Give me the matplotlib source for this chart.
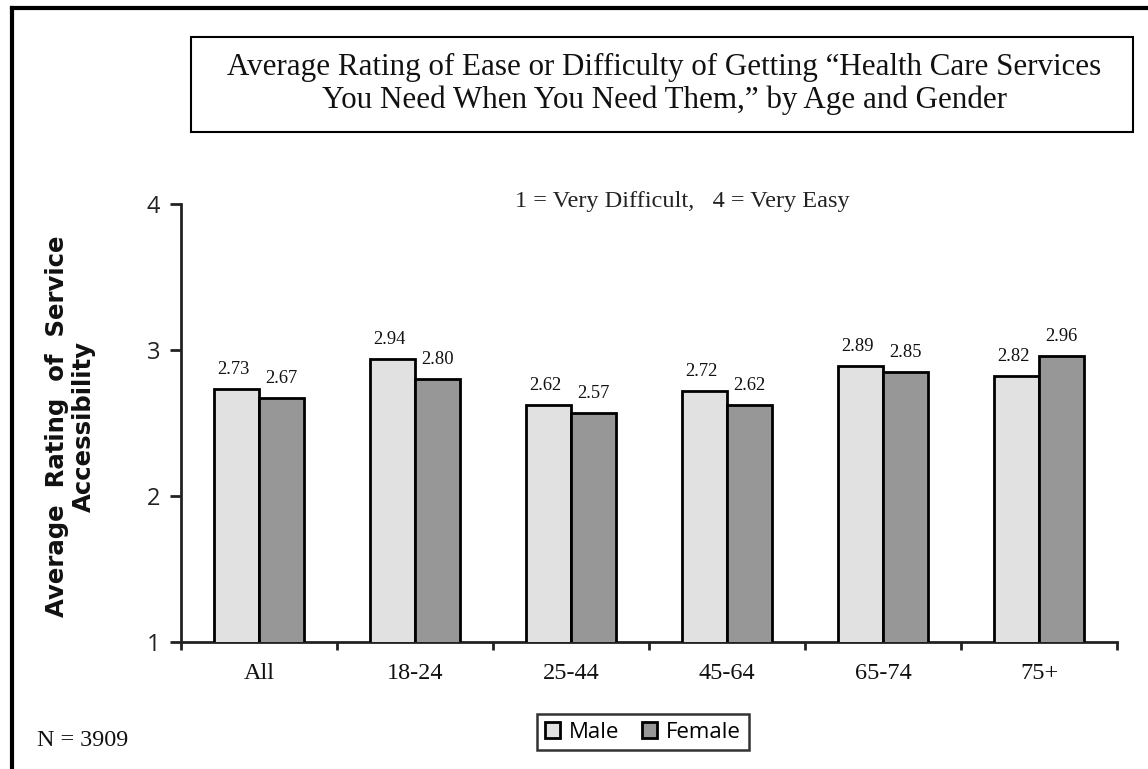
import matplotlib
matplotlib.use("Agg")
import matplotlib.pyplot as plt
from matplotlib.patches import Rectangle
from matplotlib.lines import Line2D
import numpy as np

categories = ["All", "18-24", "25-44", "45-64", "65-74", "75+"]
male = [2.73, 2.94, 2.62, 2.72, 2.89, 2.82]
female = [2.67, 2.80, 2.57, 2.62, 2.85, 2.96]
series_names = ["Male", "Female"]
yticks = [1, 2, 3, 4]

W, H = 1148, 769
fig = plt.figure(figsize=(W / 100, H / 100), dpi=100)

def fx(px):
    return px / W

def fy(py):
    return 1 - py / H

ax = fig.add_axes([fx(181), fy(642), fx(1117) - fx(181), fy(204) - fy(642)])

x = np.arange(len(categories))
bw = 0.29
c_male = "#e1e1e1"
c_female = "#979797"
b1 = ax.bar(x - bw / 2, male, bw, bottom=0, color=c_male, edgecolor="black", linewidth=2.0, label=series_names[0], zorder=3)
b2 = ax.bar(x + bw / 2, female, bw, bottom=0, color=c_female, edgecolor="black", linewidth=2.0, label=series_names[1], zorder=3)

for xi, v in zip(x - bw / 2, male):
    ax.annotate(f"{v:.2f}", (xi, v), xytext=(-2, 8), textcoords="offset points",
                ha="center", va="bottom", fontsize=13.3, family="Liberation Serif", color="#111111")
for xi, v in zip(x + bw / 2, female):
    ax.annotate(f"{v:.2f}", (xi, v), xytext=(0, 8), textcoords="offset points",
                ha="center", va="bottom", fontsize=13.3, family="Liberation Serif", color="#111111")

ax.set_xlim(-0.5, len(categories) - 0.5)
ax.set_ylim(1, 4)
ax.set_yticks(yticks)
ax.set_yticklabels([str(t) for t in yticks], fontsize=17, family="Open Sans", color="#222222")
ax.set_xticks(x)
ax.set_xticklabels(categories, fontsize=17.5, family="Liberation Serif", color="#111111")
ax.tick_params(axis="x", which="major", length=0, pad=15)
ax.set_xticks(np.arange(-0.5, len(categories), 1.0), minor=True)
ax.tick_params(axis="x", which="minor", length=6, width=2, direction="out", color="#222222")
ax.tick_params(axis="y", which="major", length=8, width=2, direction="out", color="#222222", pad=7)
for s in ["top", "right"]:
    ax.spines[s].set_visible(False)
for s in ["left", "bottom"]:
    ax.spines[s].set_linewidth(2)
    ax.spines[s].set_color("#222222")

# y label
fig.text(fx(70), fy(426), "Average  Rating  of  Service\nAccessibility", rotation=90,
         ha="center", va="center", multialignment="center", fontsize=17.6,
         fontweight="bold", family="DejaVu Sans", linespacing=1.15, color="#111111")

# subtitle
fig.text(fx(682), fy(202), "1 = Very Difficult,   4 = Very Easy", ha="center", va="center",
         fontsize=17.5, family="Liberation Serif", color="#222222")

# title box
fig.patches.append(Rectangle((fx(191), fy(132)), fx(1133) - fx(191), fy(37) - fy(132),
                             transform=fig.transFigure, fill=False, edgecolor="black", linewidth=1.5))
fig.text(fx(664), fy(84), "Average Rating of Ease or Difficulty of Getting \u201cHealth Care Services\nYou Need When You Need Them,\u201d by Age and Gender",
         ha="center", va="center", fontsize=22.3, family="Liberation Serif", linespacing=1.12, color="#111111")

# outer frame
fig.add_artist(Line2D([fx(12), fx(12)], [-0.01, fy(8)], transform=fig.transFigure, color="black", linewidth=3))
fig.add_artist(Line2D([fx(12), 1.01], [fy(8), fy(8)], transform=fig.transFigure, color="black", linewidth=3))

# N
fig.text(fx(37), fy(741), "N = 3909", ha="left", va="center", fontsize=17.4, family="Liberation Serif", color="#111111")

# legend
leg = fig.legend(handles=[b1, b2], labels=series_names, loc="center", bbox_to_anchor=(fx(643), fy(732)),
                 ncol=2, frameon=True, fancybox=False, edgecolor="black",
                 prop={"family": "Open Sans", "size": 16}, handlelength=0.7, handleheight=0.7,
                 handletextpad=0.4, columnspacing=1.0, borderpad=0.35, borderaxespad=0)
leg.get_frame().set_linewidth(1.8)

fig.savefig("out.png", dpi=100)
